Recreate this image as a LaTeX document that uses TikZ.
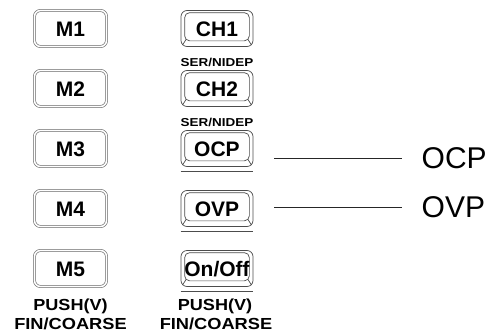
\documentclass[tikz,border=0pt]{standalone}
\usepackage{fontspec}
\setmainfont{Liberation Sans}
\usetikzlibrary{calc}
\def\keyface{\bfseries\fontsize{21}{25}\selectfont}
\def\subface{\bfseries\fontsize{11.5}{13}\selectfont}
\def\pushface{\bfseries\fontsize{16}{19}\selectfont}
\def\bevel(#1){%
	\draw[keyline, rounded corners=5pt] ($(#1.north west)+(4,2.5)$) rectangle ($(#1.south east)+(-4,-6)$);
	\draw[keyline] ($(#1.south west)+(1.8,-1.8)$) -- ($(#1.south west)+(5.5,-7.5)$);
	\draw[keyline] ($(#1.south east)+(-1.8,-1.8)$) -- ($(#1.south east)+(-5.5,-7.5)$);
}
\tikzset{
	keyline/.style={draw=black!70, line width=0.7pt},
	mkey/.style={draw=black!60, double=white, double distance=1.6pt, line width=0.6pt, rounded corners=6pt, minimum width=72pt, minimum height=36pt, inner sep=0pt, text height=15pt, text depth=0pt, font=\keyface},
	chkey/.style={keyline, rounded corners=6pt, minimum width=72pt, minimum height=36pt, inner sep=0pt, text height=15pt, text depth=0pt, font=\keyface},
	sublabel/.style={anchor=base, inner sep=0pt, font=\subface},
	pushlabel/.style={anchor=base, inner sep=0pt, font=\pushface},
	sidelabel/.style={anchor=west, inner sep=0pt, font=\fontsize{30}{36}\selectfont},
	lead/.style={draw=black!85, line width=0.7pt, shorten >=19.5pt}
}

\begin{document}
\begin{tikzpicture}[x=1pt, y=-1pt]
			%%%%% START %%%%%
			\useasboundingbox (0, 0) rectangle (495, 332);
			
			\node[mkey] (m1) at (70.5, 28.5) {M1};
			\node[mkey] (m2) at (70.5, 88.5) {M2};
			\node[mkey] (m3) at (70.5, 148.5) {M3};
			\node[mkey] (m4) at (70.5, 208.5) {M4};
			\node[mkey] (m5) at (70.5, 268.5) {M5};
			
			\node[pushlabel] (lpush) at (70.5, 310.5) {\scalebox{1.13}[1]{PUSH(V)}};
			\node[pushlabel] (lfine) at (70.5, 329) {\scalebox{1.14}[1]{FIN/COARSE}};
			
			\node[chkey] (ch1) at (217, 28.5) {CH1};
			\bevel(ch1)
			\node[sublabel] (ch1mode) at (217, 66) {\scalebox{1.17}[1]{SER/NIDEP}};
			
			\node[chkey] (ch2) at (217, 88.5) {CH2};
			\bevel(ch2)
			\node[sublabel] (ch2mode) at (217, 126) {\scalebox{1.17}[1]{SER/NIDEP}};
			
			\node[chkey] (ocp) at (217, 148.5) {OCP};
			\bevel(ocp)
			\draw[keyline] ($(ocp.south west)+(0,4.5)$) -- ($(ocp.south east)+(0,4.5)$);
			
			\node[chkey] (ovp) at (217, 208.5) {OVP};
			\bevel(ovp)
			\draw[keyline] ($(ovp.south west)+(0,4.5)$) -- ($(ovp.south east)+(0,4.5)$);
			
			\node[chkey] (onoff) at (217, 268.5) {On/Off};
			\bevel(onoff)
			\draw[keyline] ($(onoff.south west)+(0,4.5)$) -- ($(onoff.south east)+(0,4.5)$);
			
			\node[pushlabel] (rpush) at (215, 310.5) {\scalebox{1.13}[1]{PUSH(V)}};
			\node[pushlabel] (rfine) at (216, 329) {\scalebox{1.14}[1]{FIN/COARSE}};
			
			% side labels
			\node[sidelabel] (ocptxt) at (421.5, 158.5) {OCP};
			\node[sidelabel] (ovptxt) at (421.5, 207.5) {OVP};
			\coordinate (ocpend) at (274, 158.5);
			\coordinate (ovpend) at (274, 207.5);
			\draw[lead] (ocpend) -- (ocptxt);
			\draw[lead] (ovpend) -- (ovptxt);
			
			%%%%% END %%%%%
\end{tikzpicture}
\end{document}
